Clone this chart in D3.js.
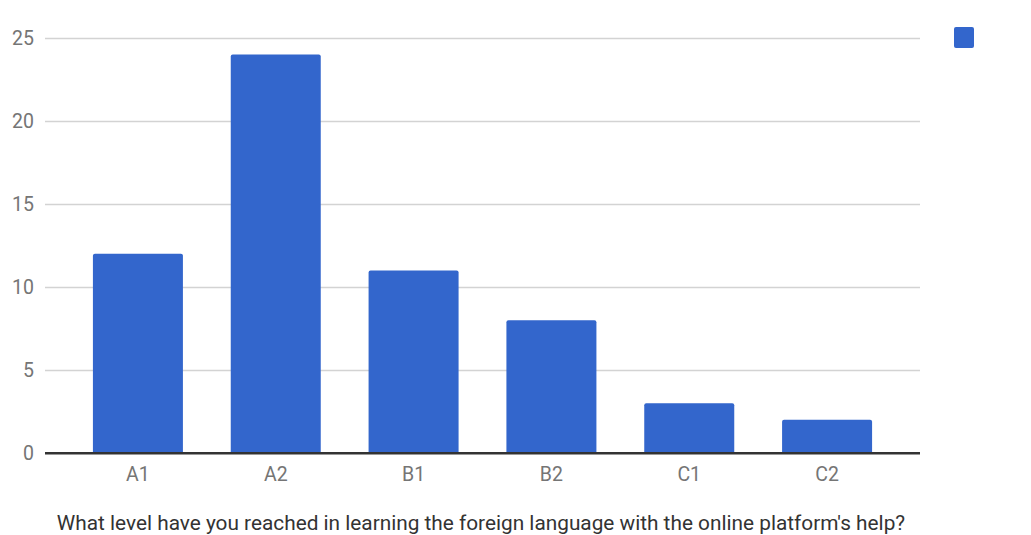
<!DOCTYPE html>
<html>
<head>
<meta charset="utf-8">
<script src="https://cdn.jsdelivr.net/npm/d3@7"></script>
<style>
  html, body { margin: 0; padding: 0; background: #fff; }
  svg { display: block; font-family: "Roboto", "Noto Sans", sans-serif; }
</style>
</head>
<body>
<svg id="chart" width="1031" height="535"></svg>
<script>
// Survey answers: number of respondents per language level
const levels = ["A1", "A2", "B1", "B2", "C1", "C2"];
const counts = [12, 24, 11, 8, 3, 2];
const yTicks = [0, 5, 10, 15, 20, 25];
const title = "What level have you reached in learning the foreign language with the online platform's help?";

const svg = d3.select("#chart");
const barColor = "#3366cc";

const plot = { left: 45, right: 920, top: 38, bottom: 453 };

const x = d3.scaleBand()
  .domain(levels)
  .range([69, 896])
  .paddingInner(0.347)
  .paddingOuter(0.1735);

const y = d3.scaleLinear()
  .domain([0, 25])
  .range([plot.bottom, plot.top]);

// Horizontal gridlines with value labels
const yAxis = d3.axisLeft(y)
  .tickValues(yTicks)
  .tickSize(-(plot.right - plot.left))
  .tickPadding(11)
  .tickFormat(d3.format("d"));

const gy = svg.append("g")
  .attr("transform", `translate(${plot.left},0)`)
  .call(yAxis);
gy.select(".domain").remove();
gy.selectAll(".tick line")
  .attr("stroke", d => d === 0 ? "#333" : "#d3d3d3")
  .attr("stroke-width", d => d === 0 ? 2 : 1.6);
gy.selectAll(".tick text")
  .attr("fill", "#757575")
  .attr("font-family", "Roboto")
  .attr("font-size", 19.5);

// Bars with slightly rounded tops
const r = 2;
svg.append("g")
  .selectAll("path")
  .data(levels.map((l, i) => ({ level: l, value: counts[i] })))
  .join("path")
  .attr("fill", barColor)
  .attr("d", d => {
    const x0 = x(d.level), w = x.bandwidth();
    const y0 = y(d.value), y1 = y(0);
    return `M${x0},${y1}V${y0 + r}Q${x0},${y0} ${x0 + r},${y0}` +
           `H${x0 + w - r}Q${x0 + w},${y0} ${x0 + w},${y0 + r}V${y1}Z`;
  });

// Redraw the zero baseline over the bars
svg.append("line")
  .attr("x1", plot.left).attr("x2", plot.right)
  .attr("y1", y(0)).attr("y2", y(0))
  .attr("stroke", "#333").attr("stroke-width", 2);

// Category axis labels
const xAxis = d3.axisBottom(x).tickSize(0).tickPadding(14);
const gx = svg.append("g")
  .attr("transform", `translate(0,${plot.bottom})`)
  .call(xAxis);
gx.select(".domain").remove();
gx.selectAll(".tick text")
  .attr("fill", "#757575")
  .attr("font-family", "Roboto")
  .attr("font-size", 19.5);

// Legend swatch
svg.append("rect")
  .attr("x", 954).attr("y", 27)
  .attr("width", 20).attr("height", 21)
  .attr("rx", 2).attr("fill", barColor);

// Axis title
svg.append("text")
  .attr("x", 481)
  .attr("y", 530)
  .attr("text-anchor", "middle")
  .attr("fill", "#333")
  .attr("font-family", "Roboto")
  .attr("font-size", 20.8)
  .text(title);
</script>
</body>
</html>
